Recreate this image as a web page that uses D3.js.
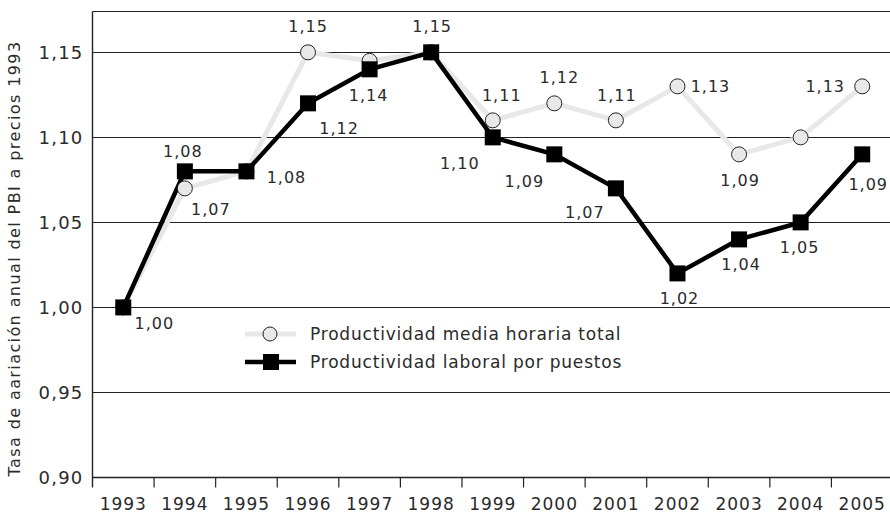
<!DOCTYPE html>
<html>
<head>
<meta charset="utf-8">
<script src="https://cdn.jsdelivr.net/npm/d3@7"></script>
<style>
  body { margin: 0; background: #fff; }
  text { font-family: "DejaVu Sans", sans-serif; fill: #2a2a2a; }
</style>
</head>
<body>
<svg id="chart" width="890" height="514"></svg>
<script>
const YEARS = ["1993","1994","1995","1996","1997","1998","1999","2000","2001","2002","2003","2004","2005"]
const HORARIA = [1.00, 1.07, 1.08, 1.15, 1.145, 1.15, 1.11, 1.12, 1.11, 1.13, 1.09, 1.10, 1.13]
const PUESTOS = [1.00, 1.08, 1.08, 1.12, 1.14, 1.15, 1.10, 1.09, 1.07, 1.02, 1.04, 1.05, 1.09]
const Y_TICKS = [0.90, 0.95, 1.00, 1.05, 1.10, 1.15]
// which points get a value label, and where (dx, dy from the point)
const HORARIA_LABELS = [null, [26,21], null, [0,-26], null, null, [9,-25], [5,-26], [1,-25], [33,0], [1,26], null, [-37,0]]
const PUESTOS_LABELS = [[31,16], [-2,-20], [40,6], [31,25], [-1,26], [1,-26], [-33,26], [-30,27], [-31,24], [2,25], [2,25], [-1,25], [6,30]]

let svg = d3.select("#chart")
let m = {left: 92.5, right: 893, top: 11.5, bottom: 477.5}

let x = d3.scaleBand().domain(YEARS).range([m.left, m.right])
let y = d3.scaleLinear().domain([0.90, 1.174]).range([m.bottom, m.top])
let cx = d => x(d) + x.bandwidth()/2
let fmt = v => d3.format(".2f")(v).replace(".", ",")

//grid lines
svg.append("g").selectAll("line").data(Y_TICKS.slice(1)).enter().append("line")
  .attr("x1", m.left).attr("x2", m.right)
  .attr("y1", d => Math.round(y(d))+0.5).attr("y2", d => Math.round(y(d))+0.5)
  .attr("stroke", "#222").attr("stroke-width", 1.2)

//frame top
svg.append("line").attr("x1", m.left).attr("x2", m.right).attr("y1", m.top).attr("y2", m.top)
  .attr("stroke", "#222").attr("stroke-width", 1.2)

//y axis
let ya = svg.append("g").attr("transform", `translate(${m.left},0)`)
  .call(d3.axisLeft(y).tickValues(Y_TICKS).tickFormat(fmt).tickSize(0).tickPadding(9))
ya.select(".domain").attr("stroke", "#222").attr("stroke-width", 1.4).attr("d", `M0,${m.top}V${m.bottom+10}`)
ya.selectAll("text").attr("font-size", 18).attr("fill", "#2a2a2a").attr("font-family", "DejaVu Sans")
  .attr("letter-spacing", 1.2)

//x axis, ticks on band edges
let xa = svg.append("g").attr("transform", `translate(0,${m.bottom})`)
  .call(d3.axisBottom(x).tickSize(0).tickPadding(20))
xa.select(".domain").attr("stroke", "#222").attr("stroke-width", 1.6).attr("d", `M${m.left},0H${m.right}`)
xa.selectAll("text").attr("font-size", 17).attr("fill", "#2a2a2a").attr("font-family", "DejaVu Sans")
  .attr("letter-spacing", 1)
xa.selectAll(".edge").data(YEARS.slice(1)).enter().append("line")
  .attr("class", "edge")
  .attr("x1", d => x(d)).attr("x2", d => x(d)).attr("y1", 0).attr("y2", 10)
  .attr("stroke", "#222").attr("stroke-width", 1.2)

//y title
svg.append("text")
  .attr("transform", `translate(20,${(m.top+m.bottom)/2 + 14}) rotate(-90)`)
  .attr("text-anchor", "middle").attr("font-size", 16).attr("letter-spacing", 1.4)
  .text("Tasa de aariación anual del PBI a precios 1993")

let line = d3.line().x((d,i) => cx(YEARS[i])).y(d => y(d))

//gray series
svg.append("path").datum(HORARIA).attr("d", line)
  .attr("fill", "none").attr("stroke", "#e8e8e8").attr("stroke-width", 5)

//black series
svg.append("path").datum(PUESTOS).attr("d", line)
  .attr("fill", "none").attr("stroke", "#000").attr("stroke-width", 4.5)

svg.append("g").selectAll("circle").data(HORARIA).enter().append("circle")
  .attr("cx", (d,i) => cx(YEARS[i])).attr("cy", d => y(d)).attr("r", 7.5)
  .attr("fill", "#e8e8e8").attr("stroke", "#222").attr("stroke-width", 1)

svg.append("g").selectAll("rect").data(PUESTOS).enter().append("rect")
  .attr("x", (d,i) => cx(YEARS[i]) - 8).attr("y", d => y(d) - 8)
  .attr("width", 16).attr("height", 16).attr("fill", "#000")

//value labels
function labels(vals, offs) {
  svg.append("g").selectAll("text").data(vals.map((v,i) => ({v, i, o: offs[i]})).filter(d => d.o))
    .enter().append("text")
    .attr("x", d => cx(YEARS[d.i]) + d.o[0]).attr("y", d => y(d.v) + d.o[1])
    .attr("dy", "0.35em").attr("text-anchor", "middle").attr("font-size", 16)
    .attr("letter-spacing", 1)
    .text(d => fmt(d.v))
}
labels(HORARIA, HORARIA_LABELS)
labels(PUESTOS, PUESTOS_LABELS)

//legend
let leg = svg.append("g").attr("transform", "translate(245,334)")
leg.append("line").attr("x1", 0).attr("x2", 51).attr("y1", 0).attr("y2", 0)
  .attr("stroke", "#e8e8e8").attr("stroke-width", 5)
leg.append("circle").attr("cx", 25).attr("cy", 0).attr("r", 7)
  .attr("fill", "#e8e8e8").attr("stroke", "#222")
leg.append("text").attr("x", 65).attr("y", 0).attr("dy", "0.35em").attr("font-size", 17)
  .attr("letter-spacing", 0.8)
  .text("Productividad media horaria total")
leg.append("line").attr("x1", 0).attr("x2", 51).attr("y1", 28).attr("y2", 28)
  .attr("stroke", "#000").attr("stroke-width", 4.5)
leg.append("rect").attr("x", 18).attr("y", 20).attr("width", 16).attr("height", 16).attr("fill", "#000")
leg.append("text").attr("x", 65).attr("y", 28).attr("dy", "0.35em").attr("font-size", 17)
  .attr("letter-spacing", 0.8)
  .text("Productividad laboral por puestos")
</script>
</body>
</html>
